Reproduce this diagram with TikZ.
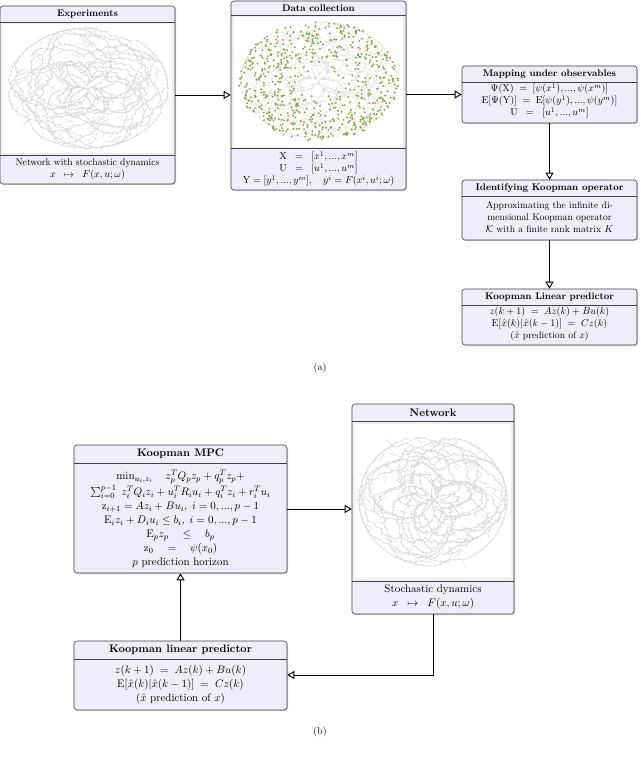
\documentclass[tikz,border=0pt]{standalone}
\usetikzlibrary{arrows.meta,fit,shadows}
\definecolor{boxfill}{HTML}{EEEEFA}
\definecolor{netgray}{HTML}{DCDCDC}
\definecolor{dgreen}{HTML}{7DB040}
\definecolor{dorange}{HTML}{E98B2A}
\tikzset{
  panel/.style={draw=black!75,fill=boxfill,rounded corners=3pt,line width=0.6pt,inner sep=0pt,drop shadow={shadow xshift=1pt,shadow yshift=-1pt,opacity=0.35}},
  ttl/.style={font=\fontsize{9.6}{11}\selectfont\bfseries,anchor=center,inner sep=0pt},
  txt/.style={font=\fontsize{9.6}{12}\selectfont,align=center,anchor=center,inner sep=0pt},
  bttl/.style={font=\fontsize{10.95}{12}\selectfont\bfseries,anchor=center,inner sep=0pt},
  btxt/.style={font=\fontsize{10.95}{14}\selectfont,align=center,anchor=center,inner sep=0pt},
  conn/.style={line width=0.9pt,-{Triangle[open,length=7pt,width=8pt]}},
  sep/.style={draw=black!75,line width=0.6pt}
}
\newcommand{\netgraph}[4]{%
  \begin{scope}
  \pgfmathsetseed{#1#2}
  \foreach \k in {1,...,12}{
    \pgfmathsetmacro\base{0.12+0.075*\k}
    \pgfmathsetmacro\ph{rnd*360}
    \pgfmathsetmacro\fr{2+int(rnd*4)}
    \foreach \j in {0,...,90}{
      \pgfmathsetmacro\th{\j*4}
      \pgfmathsetmacro\rr{min(1,\base+0.16*sin(\fr*\th+\ph)+0.06*(rnd-0.5))}
      \pgfmathsetmacro\px{#1+#3*\rr*cos(\th)}
      \pgfmathsetmacro\py{#2+#4*\rr*sin(\th)}
      \ifnum\j>0 \draw[netgray,line width=0.6pt] (\lx,\ly) -- (\px,\py);\fi
      \fill[netgray] (\px,\py) circle (0.9);
      \xdef\lx{\px}\xdef\ly{\py}
    }
  }
  \foreach \i in {1,...,160}{
    \pgfmathsetmacro\ang{rnd*360}
    \pgfmathsetmacro\rr{0.3+0.7*sqrt(rnd)}
    \pgfmathsetmacro\px{#1+#3*\rr*cos(\ang)}
    \pgfmathsetmacro\py{#2+#4*\rr*sin(\ang)}
    \pgfmathsetmacro\qx{\px+(rnd-0.5)*22}
    \pgfmathsetmacro\qy{\py+(rnd-0.5)*18}
    \draw[netgray,line width=0.5pt] (\px,\py) -- (\qx,\qy);
  }
  \end{scope}}
\begin{document}
\begin{tikzpicture}[x=1pt,y=-1pt]
\useasboundingbox (0,0) rectangle (640,760);
\fill[white] (0,0) rectangle (640,760);
% ---------- (a)
\node[panel,fit={(0,6)(175,184)}] (exp) {};
\fill[white] (3,24) rectangle (172,153);
\netgraph{88}{88}{80}{60}
\draw[sep] (0,22) -- (175,22);
\draw[sep] (0,155) -- (175,155);
\node[ttl] (expt) at (87.5,14) {Experiments};
\node[txt] (expx) at (87.5,169.5) {Network with stochastic dynamics\\ $x \;\;\mapsto\;\; F(x,u;\omega)$};

\node[panel,fit={(231,1)(406,190)}] (data) {};
\fill[white] (234,17) rectangle (403,147);
\begin{scope}[opacity=0.45]\netgraph{319}{80}{78}{58}\end{scope}
\pgfmathsetseed{7}
\foreach \i in {1,...,600}{
  \pgfmathsetmacro\ang{rnd*360}
  \pgfmathsetmacro\rr{0.2+0.8*sqrt(rnd)}
  \fill[dgreen] ({319+80*\rr*cos(\ang)},{81+60*\rr*sin(\ang)}) circle (1.1);
}
\foreach \i in {1,...,70}{
  \pgfmathsetmacro\ang{rnd*360}
  \pgfmathsetmacro\rr{0.3+0.7*sqrt(rnd)}
  \fill[dorange] ({319+78*\rr*cos(\ang)},{81+58*\rr*sin(\ang)}) circle (1.1);
}
\draw[sep] (231,15) -- (406,15);
\draw[sep] (231,148) -- (406,148);
\node[ttl] (datat) at (318.5,8) {Data collection};
\node[txt] (datax) at (318.5,169) {$\mathrm{X} \;\;=\;\; [x^1,...,x^m]$\\ $\mathrm{U} \;\;=\;\; [u^1,...,u^m]$\\ $\mathrm{Y} = [y^1,...,y^m],\quad y^i = F(x^i,u^i;\omega)$};

\node[panel,fit={(462,66)(637,123)}] (map) {};
\draw[sep] (462,82) -- (637,82);
\node[ttl] (mapt) at (549.5,74) {Mapping under observables};
\node[txt] (mapx) at (549.5,101) {$\Psi(\mathrm{X}) \;=\; [\psi(x^1),...,\psi(x^m)]$\\ $\mathrm{E}[\Psi(\mathrm{Y})] \;=\; \mathrm{E}[\psi(y^1),...,\psi(y^m)]$\\ $\mathrm{U} \;\;=\;\; [u^1,...,u^m]$};

\node[panel,fit={(462,180)(637,240)}] (ident) {};
\draw[sep] (462,196) -- (637,196);
\node[ttl] (identt) at (549.5,188) {Identifying Koopman operator};
\node[txt] (identx) at (549.5,217) {Approximating the infinite di-\\ mensional Koopman operator\\ $\mathcal{K}$ with a finite rank matrix $K$};

\node[panel,fit={(462,289)(637,345)}] (pred) {};
\draw[sep] (462,305) -- (637,305);
\node[ttl] (predt) at (549.5,297) {Koopman Linear predictor};
\node[txt] (predx) at (549.5,324) {$z(k+1) \;=\; Az(k) + Bu(k)$\\ $\mathrm{E}[\hat{x}(k)|\hat{x}(k-1)] \;=\; Cz(k)$\\ ($\hat{x}$ prediction of $x$)};

\draw[conn] (exp.east) -- (data.west |- exp.east);
\draw[conn] (data.east |- map.west) -- (map.west);
\draw[conn] (map.south) -- (ident.north);
\draw[conn] (ident.south) -- (pred.north);
\node[txt,font=\normalsize] (capa) at (320,368) {(a)};

% ---------- (b)
\node[panel,fit={(352,404)(514,614)}] (net) {};
\fill[white] (355,424) rectangle (511,578);
\netgraph{433}{500}{74}{66}
\draw[sep] (352,421) -- (514,421);
\draw[sep] (352,581) -- (514,581);
\node[bttl] (nett) at (433,412.5) {Network};
\node[btxt] (netx) at (433,597.5) {Stochastic dynamics\\ $x \;\;\mapsto\;\; F(x,u;\omega)$};

\node[panel,fit={(74,445)(287,573)}] (mpc) {};
\draw[sep] (74,463) -- (287,463);
\node[bttl] (mpct) at (180.5,454) {Koopman MPC};
\node[btxt] (mpcx) at (180.5,519) {$\min_{u_i,z_i}\quad z_p^TQ_pz_p + q_p^Tz_p +$\\ $\sum_{i=0}^{p-1}\; z_i^TQ_iz_i + u_i^TR_iu_i + q_i^Tz_i + r_i^Tu_i$\\ $\mathrm{z}_{i+1} = Az_i + Bu_i,\; i=0,...,p-1$\\ $\mathrm{E}_iz_i + D_iu_i \le b_i,\; i=0,...,p-1$\\ $\mathrm{E}_pz_p \quad\le\quad b_p$\\ $\mathrm{z}_0 \quad=\quad \psi(x_0)$\\ $p$ prediction horizon};

\node[panel,fit={(74,641)(287,710)}] (lin) {};
\draw[sep] (74,659) -- (287,659);
\node[bttl] (lint) at (180.5,650) {Koopman linear predictor};
\node[btxt] (linx) at (180.5,685) {$z(k+1) \;=\; Az(k) + Bu(k)$\\ $\mathrm{E}[\hat{x}(k)|\hat{x}(k-1)] \;=\; Cz(k)$\\ ($\hat{x}$ prediction of $x$)};

\coordinate (bend) at (net.south |- 0,675);
\draw[conn] (mpc.east |- 0,509) -- (net.west |- 0,509);
\draw[conn] (lin.north) -- (mpc.south);
\draw[conn] (net.south) -- (bend) -- (lin.east |- bend);
\node[txt,font=\normalsize] (capb) at (320,732) {(b)};
\end{tikzpicture}
\end{document}
